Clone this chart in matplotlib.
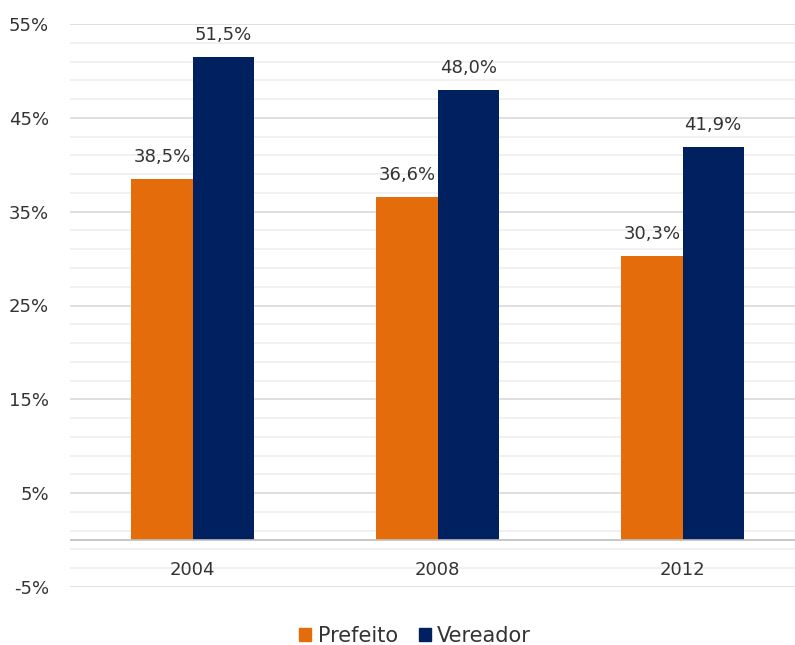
import numpy as np
import matplotlib.pyplot as plt
from matplotlib.patches import Patch

years = ['2004', '2008', '2012']
prefeito = [38.5, 36.6, 30.3]
vereador = [51.5, 48.0, 41.9]
series = ['Prefeito', 'Vereador']
colors = ['#E46C0A', '#002060']

txt = '#333333'
plt.rcParams['font.family'] = 'DejaVu Sans'

fig = plt.figure(figsize=(7.95, 6.45), dpi=100)
ax = fig.add_axes([70 / 795, 58 / 645, 725 / 795, 563 / 645])

x = np.arange(len(years))
w = 0.25
ax.bar(x - w / 2, prefeito, w, color=colors[0], zorder=3)
ax.bar(x + w / 2, vereador, w, color=colors[1], zorder=3)

# data labels
for xi, v in zip(x - w / 2, prefeito):
    ax.text(xi, v + 1.4, f'{v:.1f}%'.replace('.', ','), ha='center', va='bottom',
            fontsize=13, color=txt)
for xi, v in zip(x + w / 2, vereador):
    ax.text(xi, v + 1.4, f'{v:.1f}%'.replace('.', ','), ha='center', va='bottom',
            fontsize=13, color=txt)

# category labels just below the zero line
for xi, y in zip(x, years):
    ax.text(xi, -3.2, y, ha='center', va='center', fontsize=13, color=txt)

ax.set_ylim(-5, 55)
ax.set_xlim(-0.5, -0.5 + 725 / 245)
ax.set_yticks(np.arange(-5, 56, 10))
ax.set_yticklabels([f'{t}%' for t in range(-5, 56, 10)])
ax.set_yticks(np.arange(-3, 55, 2), minor=True)
ax.tick_params(axis='y', which='both', length=0, pad=15, labelsize=13, labelcolor=txt)
ax.set_xticks([])

ax.grid(axis='y', which='major', color='#d9d9d9', linewidth=1.2, zorder=0)
ax.grid(axis='y', which='minor', color='#efefef', linewidth=1.2, zorder=0)
ax.axhline(0, color='#bfbfbf', linewidth=1.2, zorder=4)
for s in ax.spines.values():
    s.set_visible(False)

handles = [Patch(color=c) for c in colors]
fig.legend(handles, series, loc='center', bbox_to_anchor=(0.522, 0.014), ncol=2,
           frameon=False, fontsize=15, handlelength=0.6, handleheight=0.6,
           handletextpad=0.3, columnspacing=1.0, labelcolor=txt)

fig.savefig('out.png', dpi=100)
